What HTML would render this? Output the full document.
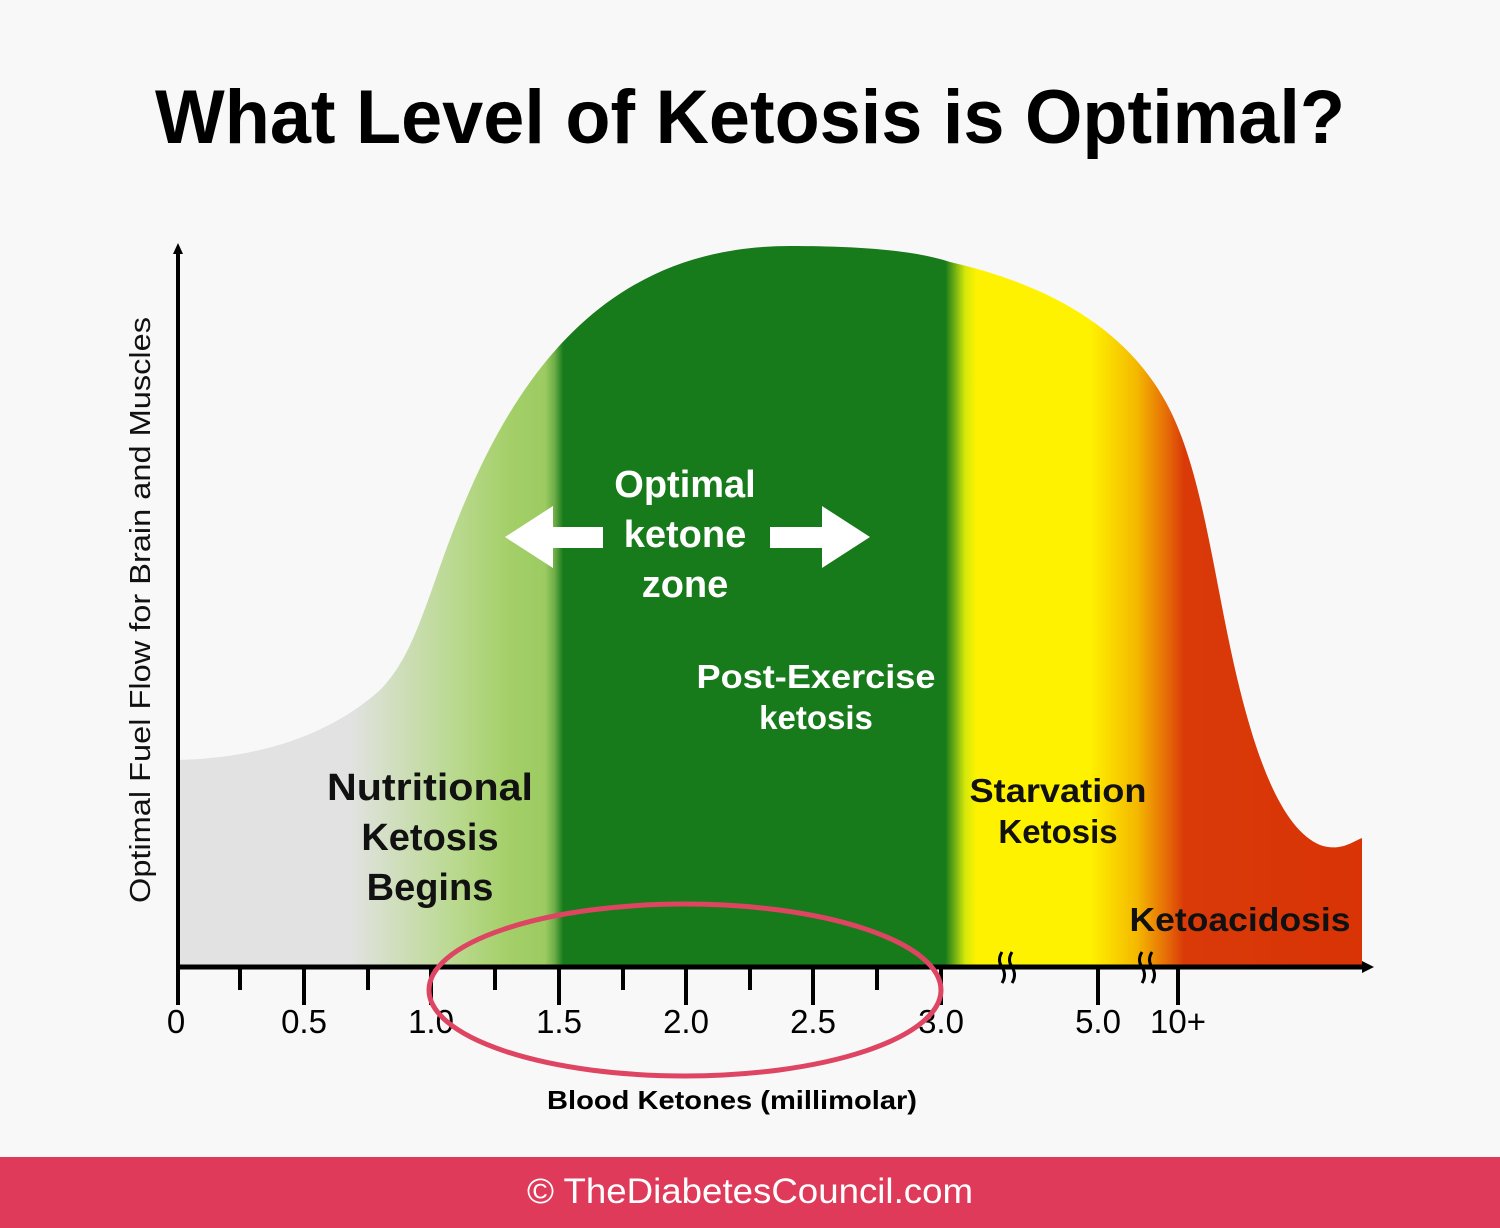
<!DOCTYPE html>
<html><head><meta charset="utf-8"><style>
html,body{margin:0;padding:0;background:#f8f8f8;}
svg{display:block;}
</style></head><body>
<svg width="1500" height="1228" viewBox="0 0 1500 1228" xmlns="http://www.w3.org/2000/svg" font-family="Liberation Sans, sans-serif">
<defs>
<linearGradient id="g" x1="178" y1="0" x2="1362" y2="0" gradientUnits="userSpaceOnUse">
<stop offset="0" stop-color="#e2e2e2"/>
<stop offset="0.145" stop-color="#e2e2e2"/>
<stop offset="0.235" stop-color="#b9d98e"/>
<stop offset="0.28" stop-color="#a4cf68"/>
<stop offset="0.31" stop-color="#9ccb62"/>
<stop offset="0.318" stop-color="#6fae48"/>
<stop offset="0.325" stop-color="#1a7d1c"/>
<stop offset="0.325" stop-color="#177a1b"/>
<stop offset="0.648" stop-color="#177a1b"/>
<stop offset="0.665" stop-color="#d6e80a"/>
<stop offset="0.675" stop-color="#fff200"/>
<stop offset="0.77" stop-color="#fff200"/>
<stop offset="0.81" stop-color="#f4b800"/>
<stop offset="0.835" stop-color="#e66c07"/>
<stop offset="0.85" stop-color="#d93a08"/>
<stop offset="1" stop-color="#d93306"/>
</linearGradient>
</defs>
<rect width="1500" height="1228" fill="#f8f8f8"/>
<text x="750" y="143" text-anchor="middle" font-size="76" font-weight="bold" fill="#000" textLength="1190" lengthAdjust="spacingAndGlyphs">What Level of Ketosis is Optimal?</text>

<path d="M178,760 C260,758 330,735 380,690 C420,650 430,580 470,490 C540,330 640,246 790,246 C870,246 920,252 950,262 C1050,285 1130,330 1170,410 C1205,480 1215,590 1240,690 C1260,770 1285,830 1320,845 C1340,852 1352,842 1362,838 L1362,967 L178,967 Z" fill="url(#g)"/>

<line x1="178" y1="967" x2="178" y2="252" stroke="#000" stroke-width="4"/>
<polygon points="178,243 173,254 183,254" fill="#000"/>
<line x1="176" y1="967" x2="1366" y2="967" stroke="#000" stroke-width="5"/>
<polygon points="1374,967 1362,961 1362,973" fill="#000"/>
<g stroke="#000" stroke-width="4">
<line x1="178" y1="967" x2="178" y2="1005"/>
<line x1="240" y1="967" x2="240" y2="990"/>
<line x1="304" y1="967" x2="304" y2="1005"/>
<line x1="368" y1="967" x2="368" y2="990"/>
<line x1="431" y1="967" x2="431" y2="1005"/>
<line x1="495" y1="967" x2="495" y2="990"/>
<line x1="559" y1="967" x2="559" y2="1005"/>
<line x1="623" y1="967" x2="623" y2="990"/>
<line x1="686" y1="967" x2="686" y2="1005"/>
<line x1="750" y1="967" x2="750" y2="990"/>
<line x1="813" y1="967" x2="813" y2="1005"/>
<line x1="877" y1="967" x2="877" y2="990"/>
<line x1="941" y1="967" x2="941" y2="1005"/>
<line x1="1098" y1="967" x2="1098" y2="1005"/>
<line x1="1178" y1="967" x2="1178" y2="1005"/>
</g>
<g stroke="#000" stroke-width="3" fill="none">
<path d="M1002,952 q-5,8 0,15 q5,8 0,16"/>
<path d="M1012,952 q-5,8 0,15 q5,8 0,16"/>
<path d="M1142,952 q-5,8 0,15 q5,8 0,16"/>
<path d="M1152,952 q-5,8 0,15 q5,8 0,16"/>
</g>
<g font-size="33" fill="#000" text-anchor="middle">
<text x="176" y="1033">0</text>
<text x="304" y="1033">0.5</text>
<text x="431" y="1033">1.0</text>
<text x="559" y="1033">1.5</text>
<text x="686" y="1033">2.0</text>
<text x="813" y="1033">2.5</text>
<text x="941" y="1033">3.0</text>
<text x="1098" y="1033">5.0</text>
<text x="1178" y="1033">10+</text>
</g>
<ellipse cx="685" cy="990" rx="256" ry="86" fill="none" stroke="#de4563" stroke-width="5"/>
<text x="732" y="1109" text-anchor="middle" font-size="26" font-weight="bold" fill="#000" textLength="370" lengthAdjust="spacingAndGlyphs">Blood Ketones (millimolar)</text>
<text transform="translate(150,610) rotate(-90)" text-anchor="middle" font-size="29" fill="#111" textLength="586" lengthAdjust="spacingAndGlyphs">Optimal Fuel Flow for Brain and Muscles</text>

<polygon points="505,537 553,506 553,527 603,527 603,548 553,548 553,568" fill="#fff"/>
<polygon points="870,537 822,506 822,527 770,527 770,548 822,548 822,568" fill="#fff"/>
<g font-weight="bold" fill="#fff" text-anchor="middle" font-size="38">
<text x="685" y="497">Optimal</text>
<text x="685" y="547">ketone</text>
<text x="685" y="597">zone</text>
</g>
<g font-weight="bold" fill="#fff" text-anchor="middle" font-size="33">
<text x="816" y="688" textLength="239" lengthAdjust="spacingAndGlyphs">Post-Exercise</text>
<text x="816" y="729">ketosis</text>
</g>
<g font-weight="bold" fill="#111" text-anchor="middle" font-size="38">
<text x="430" y="800" textLength="206" lengthAdjust="spacingAndGlyphs">Nutritional</text>
<text x="430" y="850">Ketosis</text>
<text x="430" y="900">Begins</text>
</g>
<g font-weight="bold" fill="#111" text-anchor="middle" font-size="33">
<text x="1058" y="802" textLength="177" lengthAdjust="spacingAndGlyphs">Starvation</text>
<text x="1058" y="843">Ketosis</text>
<text x="1240" y="931" textLength="221" lengthAdjust="spacingAndGlyphs">Ketoacidosis</text>
</g>

<rect x="0" y="1157" width="1500" height="71" fill="#e03a5b"/>
<text x="750" y="1203" text-anchor="middle" font-size="35" fill="#fff" textLength="446" lengthAdjust="spacingAndGlyphs">© TheDiabetesCouncil.com</text>
</svg>
</body></html>
